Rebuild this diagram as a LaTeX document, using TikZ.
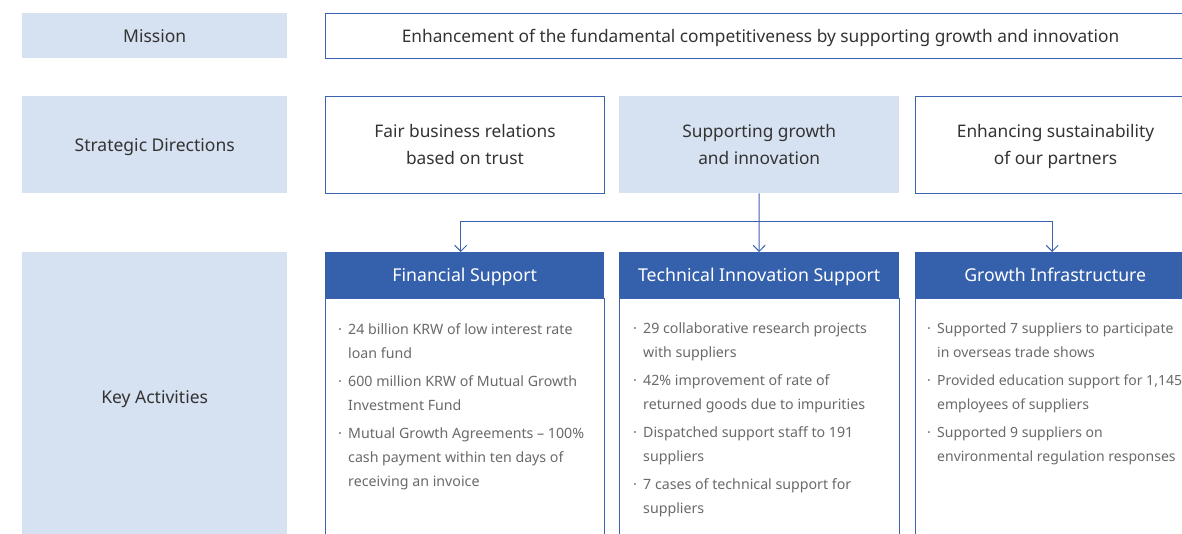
\documentclass[tikz,border=0pt]{standalone}
\usepackage{fontspec}
\setmainfont{Noto Sans}
\usetikzlibrary{arrows.meta}
\definecolor{lb}{HTML}{D6E1F1}
\definecolor{bl}{HTML}{3A62AE}
\definecolor{hd}{HTML}{3560AB}
\definecolor{tx}{HTML}{333333}
\definecolor{bt}{HTML}{6A6A6A}
\newcommand\bitem[1]{\makebox[10pt][l]{·}#1}
\newcommand\cnt[1]{\hspace*{10pt}#1}
\newcommand\mstrut{\rule[-7.5pt]{0pt}{27pt}}
\begin{document}
\begin{tikzpicture}[x=1pt,y=-1pt,
  lab/.style={fill=lb,text=tx,font=\fontsize{17.5}{21}\selectfont,inner sep=0,anchor=north west,minimum width=265pt,text height=13pt,text depth=0pt},
  wbox/.style={draw=bl,line width=1pt,fill=white,text=tx,font=\fontsize{17.3}{27}\selectfont,align=center,inner sep=0,anchor=north west},
  fbox/.style={fill=lb,text=tx,font=\fontsize{17.3}{27}\selectfont,align=center,inner sep=0,anchor=north west},
  head/.style={fill=hd,text=white,font=\fontsize{17.7}{21}\selectfont,inner sep=0,anchor=north west,minimum width=280pt,minimum height=46pt,text height=13pt,text depth=0pt},
  body/.style={draw=bl,line width=1pt,fill=white,inner sep=0,anchor=north west,minimum width=280pt,minimum height=250pt},
  btext/.style={text=bt,font=\fontsize{14.2}{24}\selectfont,align=left,inner sep=0,anchor=north west},
  conn/.style={draw=bl,line width=1pt},
  arr/.style={conn,-{Straight Barb[length=6pt,width=12pt,line width=1pt]}}]
\useasboundingbox (0,0) rectangle (1182,534);
\clip (0,0) rectangle (1182,534);
% left labels
\node[lab,minimum height=45pt] (mis) at (22,13) {Mission};
\node[lab,minimum height=97pt] (sd) at (22,96) {Strategic Directions};
\node[lab,minimum height=290pt] (ka) at (22,252) {Key Activities};
% mission
\node[wbox,minimum width=870pt,minimum height=45pt,font=\fontsize{17.3}{21}\selectfont,text height=13pt,text depth=0pt] (mt) at (325,13) {Enhancement of the fundamental competitiveness by supporting growth and innovation};
% strategic directions
\node[wbox,minimum width=279pt,minimum height=97pt] (s1) at (325,96) {\mstrut Fair business relations\\\mstrut based on trust};
\node[fbox,minimum width=280pt,minimum height=97pt] (s2) at (619,96) {\mstrut Supporting growth\\\mstrut and innovation};
\node[wbox,minimum width=280pt,minimum height=97pt] (s3) at (915,96) {\mstrut Enhancing sustainability\\\mstrut of our partners};
% bodies
\node[body,minimum width=279pt] (b1) at (325,298) {};
\node[body] (b2) at (619,298) {};
\node[body] (b3) at (915,298) {};
% headers
\node[head,minimum width=279pt] (h1) at (325,252) {Financial Support};
\node[head] (h2) at (619,252) {Technical Innovation Support};
\node[head] (h3) at (915,252) {Growth Infrastructure};
% body texts
\node[btext] (t1) at (338,323) {\bitem{24 billion KRW of low interest rate}\\\cnt{loan fund}\\[4pt]
\bitem{600 million KRW of Mutual Growth}\\\cnt{Investment Fund}\\[4pt]
\bitem{Mutual Growth Agreements – 100\%}\\\cnt{cash payment within ten days of}\\\cnt{receiving an invoice}};
\node[btext] (t2) at (633,323) {\bitem{29 collaborative research projects}\\\cnt{with suppliers}\\[4pt]
\bitem{42\% improvement of rate of}\\\cnt{returned goods due to impurities}\\[4pt]
\bitem{Dispatched support staff to 191}\\\cnt{suppliers}\\[4pt]
\bitem{7 cases of technical support for}\\\cnt{suppliers}};
\node[btext,font=\fontsize{14}{24}\selectfont] (t3) at (927,323) {\bitem{Supported 7 suppliers to participate}\\\cnt{in overseas trade shows}\\[4pt]
\bitem{Provided education support for 1,145}\\\cnt{employees of suppliers}\\[4pt]
\bitem{Supported 9 suppliers on}\\\cnt{environmental regulation responses}};
% connectors
\coordinate (j) at (759,222);
\draw[conn] (s2.south) -- (j);
\draw[arr] (j) -- (h2.north);
\draw[arr] (j) -| ([xshift=-4pt]h1.north);
\draw[arr] (j) -| ([xshift=-3pt]h3.north);
\end{tikzpicture}
\end{document}
